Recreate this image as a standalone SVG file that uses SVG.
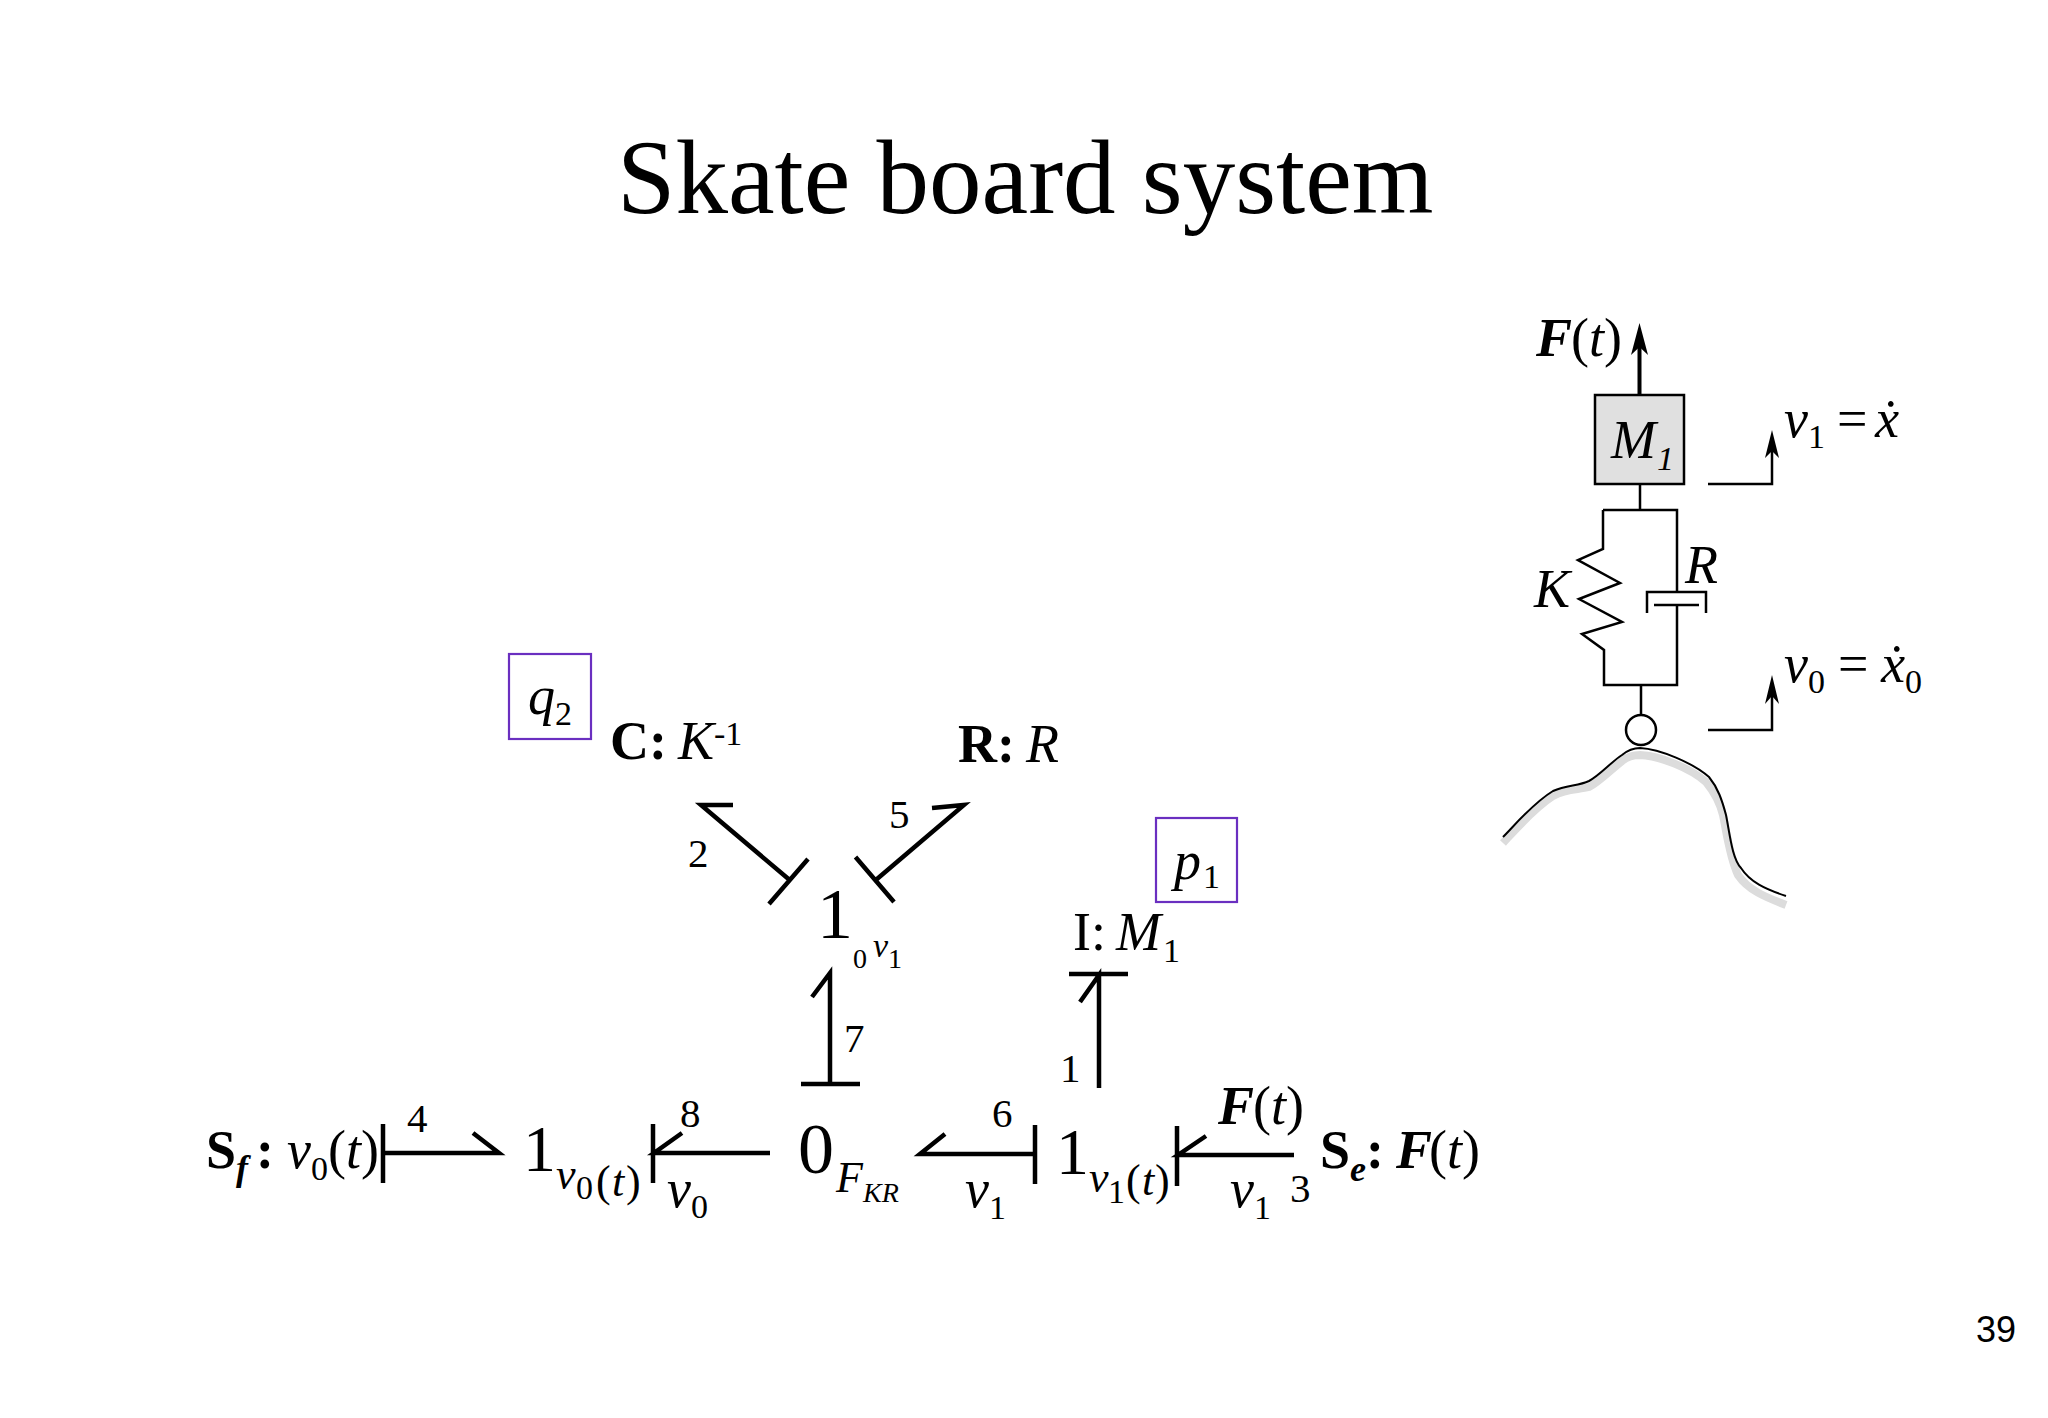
<svg xmlns="http://www.w3.org/2000/svg" width="2048" height="1418" viewBox="0 0 2048 1418">
<style>
text{font-family:"Liberation Serif","Times New Roman",serif;fill:#000}
.i{font-style:italic}.b{font-weight:bold}.bi{font-weight:bold;font-style:italic}
.s66{font-size:66px}.s72{font-size:72px}.s54{font-size:54px}.s44{font-size:44px}.s41{font-size:41px}.s36{font-size:36px}.s34{font-size:34px}.s28{font-size:28px}
.bond{fill:none;stroke:#000;stroke-width:4.5;stroke-linejoin:miter}
.mech{fill:none;stroke:#000;stroke-width:2.5}
.state{fill:#fff;stroke:#6a2fc0;stroke-width:2.2}
</style>
<rect width="2048" height="1418" fill="#fff"/>
<text x="617" y="213" font-size="105" id="title">Skate board system</text>
<text x="1976" y="1342" id="page" style="font-family:'Liberation Sans',Arial,sans-serif;font-size:36px">39</text>

<g id="connectors">
<path class="bond" d="M383 1124V1183M383 1153H499L473 1133"/>
<path class="bond" d="M653 1124V1183M770 1153H654L682 1133"/>
<path class="bond" d="M1035 1125V1184M1035 1154H920L945 1134"/>
<path class="bond" d="M1177 1126V1186M1294 1155H1178L1206 1136"/>
<path class="bond" d="M801 1084H860M830 1084V973L812 997"/>
<path class="bond" d="M1069 974H1128M1099 1088V975L1080 1002"/>
<path class="bond" d="M808 859L769 904M788.500 879L701 805H733"/>
<path class="bond" d="M855.500 857L894 902M877 879L964 805L932 808"/>
</g>

<g id="node-1-v0"><text class="s66" x="523" y="1171">1</text><text class="i s44" x="556" y="1189">v</text><text class="s34" x="576" y="1199">0</text><text class="s44" x="596" y="1196">(</text><text class="i s44" x="612" y="1196">t</text><text class="s44" x="626" y="1196">)</text></g>
<g id="node-0"><text class="s72" x="798" y="1173">0</text><text class="i s44" x="836" y="1192">F</text><text class="i s28" x="863" y="1202">KR</text></g>
<g id="node-1-v1"><text class="s66" x="1056" y="1174">1</text><text class="i s44" x="1089" y="1192">v</text><text class="s34" x="1108" y="1203">1</text><text class="s44" x="1126" y="1195">(</text><text class="i s44" x="1142" y="1195">t</text><text class="s44" x="1155" y="1195">)</text></g>
<g id="node-1-top"><text class="s72" x="817" y="938">1</text><text class="s28" x="853" y="968">0</text><text class="i s34" x="873" y="957">v</text><text class="s28" x="888" y="968">1</text></g>

<g id="node-sf"><text class="b s54" x="206" y="1168">S</text><text class="bi s36" x="236" y="1180">f</text><text class="b s54" x="256" y="1168">:</text><text class="i s54" x="287" y="1168">v</text><text class="s34" x="311" y="1180">0</text><text class="s54" x="328" y="1168">(</text><text class="i s54" x="346" y="1168">t</text><text class="s54" x="361" y="1168">)</text></g>
<g id="node-se"><text class="b s54" x="1320" y="1168">S</text><text class="bi s36" x="1350" y="1181">e</text><text class="b s54" x="1366" y="1168">:</text><text class="bi s54" x="1396" y="1168">F</text><text class="s54" x="1429" y="1168">(</text><text class="i s54" x="1447" y="1168">t</text><text class="s54" x="1462" y="1168">)</text></g>
<g id="node-c"><text class="b s54" x="610" y="759">C:<tspan class="i" style="font-weight:normal" x="678">K</tspan><tspan class="s34" style="font-weight:normal" x="714" y="745">-1</tspan></text></g>
<g id="node-r"><text class="b s54" x="958" y="762">R:<tspan class="i" style="font-weight:normal" x="1026">R</tspan></text></g>
<g id="node-i"><text class="s54" x="1073" y="950">I:</text><text class="i s54" x="1116" y="950">M</text><text class="s34" x="1163" y="962">1</text></g>
<g id="state-q2"><rect class="state" x="509" y="654" width="82" height="85"/><text class="i s54" x="528" y="714">q</text><text class="s34" x="555" y="725">2</text></g>
<g id="state-p1"><rect class="state" x="1156" y="818" width="81" height="84"/><text class="i s54" x="1174" y="879">p</text><text class="s34" x="1203" y="888">1</text></g>

<g id="bond-labels">
<text class="s41" x="407" y="1132">4</text><text class="s41" x="680" y="1127">8</text><text class="s41" x="992" y="1127">6</text><text class="s41" x="1290" y="1202">3</text><text class="s41" x="688" y="867">2</text><text class="s41" x="889" y="828">5</text><text class="s41" x="844" y="1052">7</text><text class="s41" x="1060" y="1082">1</text>
<text class="i s54" x="667" y="1207">v</text><text class="s34" x="691" y="1218">0</text>
<text class="i s54" x="965" y="1207">v</text><text class="s34" x="989" y="1219">1</text>
<text class="i s54" x="1230" y="1207">v</text><text class="s34" x="1254" y="1219">1</text>
<text class="bi s54" x="1218" y="1124">F</text><text class="s54" x="1253" y="1124">(</text><text class="i s54" x="1271" y="1124">t</text><text class="s54" x="1286" y="1124">)</text>
</g>

<g id="mechanical">
<path d="M1503 843C1515 830 1533 809 1553 796C1567 788 1578 790 1589 787C1600 781 1608 772 1622 761C1628 756 1634 755 1640 755C1660 756 1690 768 1706 782C1715 793 1720 803 1723 815C1727 835 1730 858 1738 875C1748 890 1765 897 1786 905" fill="none" stroke="#dcdcdc" stroke-width="8"/>
<path class="mech" d="M1503 837C1515 825 1533 803 1553 791C1567 785 1578 786 1589 781C1600 775 1610 763 1622 755C1628 750 1634 748 1640 748C1660 749 1693 763 1709 777C1718 788 1722 800 1726 815C1730 835 1732 858 1741 868C1750 882 1765 889 1786 896" style="stroke-width:2"/>
<rect x="1595" y="395" width="89" height="89" fill="#e0e0e0" stroke="#000" stroke-width="2.500"/>
<path class="mech" style="stroke-width:4" d="M1639.500 395V335"/>
<path d="M1639.500 323L1648 355L1639.500 347L1631 355Z" fill="#000"/>
<path class="mech" d="M1640 484V510M1603 510H1677V592M1603 510V549L1578 560L1620 583L1579 599L1622 622L1582 634L1604 650V685H1677V605M1647 613V592H1706V613M1654 605H1699M1641 685V715"/>
<circle class="mech" cx="1641" cy="730" r="15"/>
<path class="mech" d="M1708 484H1772V440M1708 730H1772V685"/>
<path d="M1772 430L1779 458L1772 451L1765 458Z" fill="#000"/>
<path d="M1772 675L1779 704L1772 696L1765 704Z" fill="#000"/>
<text class="bi s54" x="1536" y="356">F</text><text class="s54" x="1571" y="356">(</text><text class="i s54" x="1589" y="356">t</text><text class="s54" x="1604" y="356">)</text>
<text class="i s54" x="1611" y="458">M</text><text class="i s34" x="1657" y="470">1</text>
<text class="i s54" x="1534" y="607">K</text><text class="i s54" x="1685" y="583">R</text>
<text class="i s54" x="1784" y="437">v</text><text class="s34" x="1808" y="448">1</text><text class="s54" x="1837" y="437">=</text><text class="i s54" x="1875" y="437">ẋ</text>
<text class="i s54" x="1784" y="682">v</text><text class="s34" x="1808" y="693">0</text><text class="s54" x="1838" y="682">=</text><text class="i s54" x="1881" y="682">ẋ</text><text class="s34" x="1905" y="693">0</text>
</g>
</svg>
